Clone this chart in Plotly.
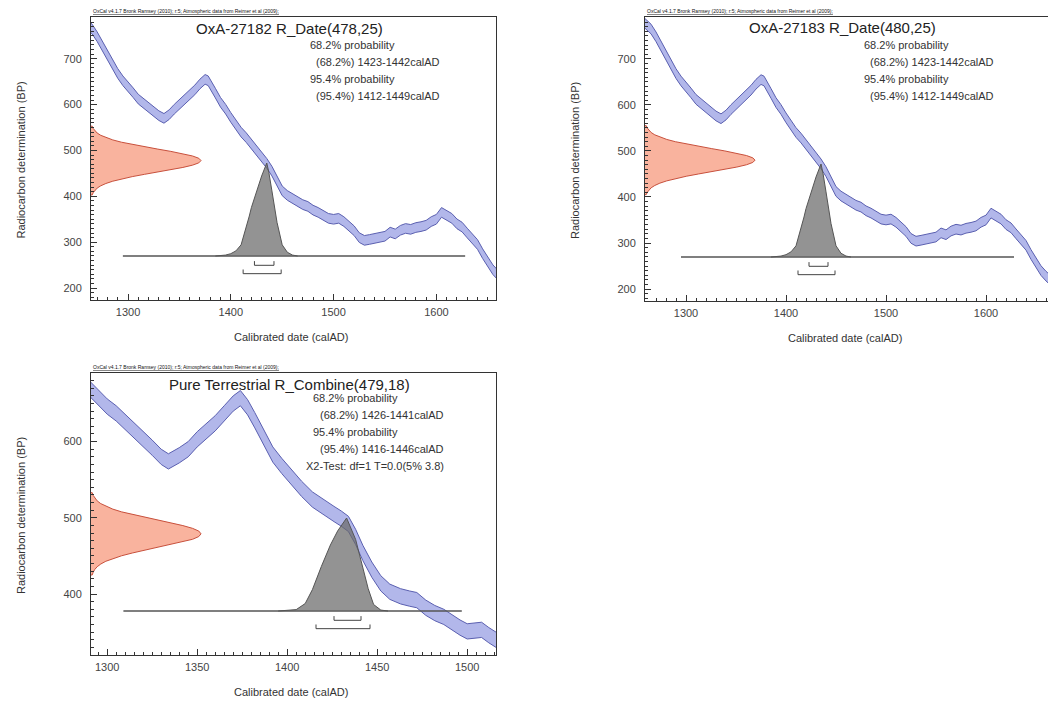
import plotly.graph_objects as go

# ---------------- data ----------------
# IntCal09 calibration curve as drawn in the two upper panels (cal AD -> BP)
cal_years_top = [1255, 1260, 1265, 1270, 1275, 1280, 1285, 1290, 1295, 1300, 1305, 1310, 1315, 1320,
                 1325, 1330, 1335, 1340, 1345, 1350, 1355, 1360, 1365, 1370, 1375, 1378, 1380,
                 1385, 1390, 1395, 1400, 1405, 1410, 1415, 1420, 1425, 1430, 1435, 1440, 1445,
                 1450, 1455, 1460, 1465, 1470, 1475, 1480, 1485, 1490, 1495, 1500, 1505, 1510,
                 1515, 1520, 1525, 1530, 1535, 1540, 1545, 1550, 1555, 1560, 1565, 1570, 1575,
                 1580, 1585, 1590, 1595, 1600, 1605, 1610, 1615, 1620, 1625, 1630, 1635, 1640,
                 1645, 1650, 1655, 1660, 1665]
cal_bp_top = [785, 775, 765, 748, 728, 706, 688, 668, 652, 640, 626, 612, 603, 594,
              585, 576, 570, 578, 590, 600, 610, 620, 632, 645, 655, 652, 645,
              625, 605, 590, 572, 556, 540, 528, 514, 500, 487, 472, 455, 432,
              412, 402, 395, 388, 382, 378, 370, 365, 358, 352, 350, 352, 345,
              335, 325, 310, 304, 306, 308, 310, 313, 322, 318, 326, 330, 328,
              332, 334, 337, 345, 350, 365, 358, 352, 340, 333, 320, 308, 295,
              275, 256, 240, 228, 218]
# calibration curve as drawn in the lower (combined) panel
cal_years_bottom = [1285, 1290, 1295, 1300, 1305, 1310, 1315, 1320, 1325, 1330, 1334, 1340, 1345,
                    1350, 1355, 1360, 1365, 1370, 1374, 1378, 1382, 1387, 1392, 1397, 1402,
                    1408, 1414, 1420, 1426, 1430, 1434, 1438, 1442, 1447, 1452, 1457, 1463,
                    1468, 1472, 1477, 1482, 1487, 1492, 1496, 1500, 1504, 1508, 1512, 1516, 1520]
cal_bp_bottom = [682, 670, 657, 646, 637, 626, 614, 604, 592, 580, 574, 582, 590,
                 603, 614, 624, 637, 650, 657, 645, 628, 606, 583, 568, 554,
                 538, 524, 514, 505, 499, 492, 475, 454, 432, 414, 403, 397,
                 394, 392, 382, 375, 370, 362, 356, 351, 352, 353, 346, 340, 334]
cal_sigma_top = 10.5
cal_sigma_bottom = 10

# radiocarbon measurements (BP) and their relative probability
rdate_density = [0.011, 0.020, 0.034, 0.056, 0.089, 0.135, 0.198, 0.278, 0.375, 0.487, 0.607,
                 0.726, 0.835, 0.923, 0.980, 1.000, 0.980, 0.923, 0.835, 0.726, 0.607, 0.487,
                 0.375, 0.278, 0.198, 0.135, 0.089, 0.056, 0.034, 0.020, 0.011]
bp_oxa27182 = [403, 408, 413, 418, 423, 428, 433, 438, 443, 448, 453, 458, 463, 468, 473, 478,
               483, 488, 493, 498, 503, 508, 513, 518, 523, 528, 533, 538, 543, 548, 553]
bp_oxa27183 = [405, 410, 415, 420, 425, 430, 435, 440, 445, 450, 455, 460, 465, 470, 475, 480,
               485, 490, 495, 500, 505, 510, 515, 520, 525, 530, 535, 540, 545, 550, 555]
bp_combine = [425.0, 428.6, 432.2, 435.8, 439.4, 443.0, 446.6, 450.2, 453.8, 457.4, 461.0,
              464.6, 468.2, 471.8, 475.4, 479.0, 482.6, 486.2, 489.8, 493.4, 497.0, 500.6,
              504.2, 507.8, 511.4, 515.0, 518.6, 522.2, 525.8, 529.4, 533.0]

# calibrated date distributions (cal AD, relative probability)
cal_years_27182 = [1385, 1390, 1395, 1400, 1405, 1410, 1415, 1418, 1420, 1425, 1430, 1435, 1437, 1440, 1443, 1445, 1450, 1455, 1460, 1465]
cal_prob_27182 = [0.0, 0.004, 0.01, 0.025, 0.055, 0.12, 0.30, 0.43, 0.52, 0.70, 0.86, 1.0, 0.90, 0.70, 0.50, 0.36, 0.12, 0.04, 0.01, 0.0]
cal_years_27183 = [1385, 1390, 1395, 1400, 1405, 1410, 1415, 1418, 1420, 1425, 1430, 1435, 1437, 1440, 1443, 1445, 1450, 1455, 1460, 1465]
cal_prob_27183 = [0.0, 0.004, 0.01, 0.025, 0.055, 0.12, 0.30, 0.43, 0.52, 0.70, 0.86, 1.0, 0.90, 0.70, 0.50, 0.36, 0.12, 0.04, 0.01, 0.0]
cal_years_comb = [1395, 1400, 1405, 1410, 1414, 1419, 1424, 1428, 1433, 1438, 1442, 1445, 1448, 1452, 1456]
cal_prob_comb = [0.0, 0.005, 0.015, 0.08, 0.23, 0.48, 0.71, 0.86, 1.0, 0.77, 0.46, 0.24, 0.07, 0.01, 0.0]

# probability ranges (cal AD)
range68_27182, range95_27182 = (1423, 1442), (1412, 1449)
range68_27183, range95_27183 = (1423, 1442), (1412, 1449)
range68_comb, range95_comb = (1426, 1441), (1416, 1446)
# extent of the calibrated-date baseline
base_top = (1295, 1628)
base_bottom = (1309, 1497)

panels = [
    dict(title="OxA-27182 R_Date(478,25)",
         lines=["68.2% probability", "  (68.2%) 1423-1442calAD", "95.4% probability", "  (95.4%) 1412-1449calAD"],
         cy=cal_years_top, cbp=cal_bp_top, cs=cal_sigma_top, bp=bp_oxa27182,
         yrs=cal_years_27182, prob=cal_prob_27182, r68=range68_27182, r95=range95_27182, base=base_top),
    dict(title="OxA-27183 R_Date(480,25)",
         lines=["68.2% probability", "  (68.2%) 1423-1442calAD", "95.4% probability", "  (95.4%) 1412-1449calAD"],
         cy=cal_years_top, cbp=cal_bp_top, cs=cal_sigma_top, bp=bp_oxa27183,
         yrs=cal_years_27183, prob=cal_prob_27183, r68=range68_27183, r95=range95_27183, base=base_top),
    dict(title="Pure Terrestrial R_Combine(479,18)",
         lines=["68.2% probability", "  (68.2%) 1426-1441calAD", "95.4% probability", "  (95.4%) 1416-1446calAD",
                "X2-Test: df=1 T=0.0(5% 3.8)"],
         cy=cal_years_bottom, cbp=cal_bp_bottom, cs=cal_sigma_bottom, bp=bp_combine,
         yrs=cal_years_comb, prob=cal_prob_comb, r68=range68_comb, r95=range95_comb, base=base_bottom),
]

# ---------------- layout geometry ----------------
W, H = 1048, 702
def px_x(p):
    return p / W
def px_y(p):
    return 1 - p / H

boxes = [  # left, right, top, bottom in pixels
    (91, 496, 17, 300),
    (645, 1048, 17, 301),
    (91, 496, 373, 655),
]
xranges = [(1264, 1658), (1259, 1662), (1291, 1516)]
yranges = [(174, 791), (174, 791), (320, 690)]
xdticks = [100, 100, 50]
xminor = [10, 10, 5]

FONT = "Arial, Liberation Sans, sans-serif"
BAND_FILL = "rgba(165,170,230,0.85)"
BAND_LINE = "#5a5fb0"
RED_FILL = "#f9b39e"
RED_LINE = "#c8503c"
GREY_FILL = "rgba(105,105,105,0.72)"
AX = "#333333"

fig = go.Figure()
layout = dict(width=W, height=H, margin=dict(l=0, r=0, t=0, b=0),
              paper_bgcolor="white", plot_bgcolor="white", showlegend=False,
              font=dict(family=FONT, color="#333", size=11))
annotations = []

for i, (p, box) in enumerate(zip(panels, boxes)):
    n = i + 1
    sx = "" if n == 1 else str(n)
    xa, ya = "x" + sx, "y" + sx
    xo, yo = "x" + str(n + 3), "y" + str(n + 3)  # overlay axes for the densities
    l, r, t, b = box
    dom_x = [px_x(l), px_x(r)]
    dom_y = [px_y(b), px_y(t)]
    layout["xaxis" + sx] = dict(domain=dom_x, anchor=ya, range=list(xranges[i]), dtick=xdticks[i],
                                ticks="inside", ticklen=6, tickwidth=1, tickcolor=AX, showgrid=False,
                                zeroline=False, showline=True, linecolor=AX, linewidth=1, mirror=True,
                                tickfont=dict(size=11, color="#444"), ticklabelstandoff=2,
                                minor=dict(dtick=xminor[i], ticks="inside", ticklen=3, tickwidth=1,
                                           tickcolor=AX))
    layout["yaxis" + sx] = dict(domain=dom_y, anchor=xa, range=list(yranges[i]), dtick=100,
                                ticks="inside", ticklen=6, tickwidth=1, tickcolor=AX, showgrid=False,
                                zeroline=False, showline=True, linecolor=AX, linewidth=1, mirror=True,
                                tickfont=dict(size=11, color="#444"), ticklabelstandoff=6,
                                minor=dict(dtick=10, ticks="inside", ticklen=3, tickwidth=1,
                                           tickcolor=AX))
    # overlay x axis for the BP measurement density (peak reaches ~110 px)
    pw = r - l
    layout["xaxis" + str(n + 3)] = dict(domain=dom_x, anchor=ya, overlaying=xa, range=[0, pw / 110.0],
                                        visible=False, fixedrange=True)
    # overlay y axis for the calibrated-date density (baseline at 0)
    ph = b - t
    base_frac = 44.0 / ph
    peak_frac = base_frac + 93.0 / ph
    span = 1.0 / (peak_frac - base_frac)
    lo = -base_frac * span
    layout["yaxis" + str(n + 3)] = dict(domain=dom_y, anchor=xa, overlaying=ya, range=[lo, lo + span],
                                        visible=False, fixedrange=True)

    # calibration band
    up = [v + p["cs"] for v in p["cbp"]]
    dn = [v - p["cs"] for v in p["cbp"]]
    fig.add_trace(go.Scatter(x=p["cy"], y=dn, mode="lines", line=dict(color=BAND_LINE, width=1),
                             xaxis=xa, yaxis=ya, hoverinfo="skip"))
    fig.add_trace(go.Scatter(x=p["cy"], y=up, mode="lines", line=dict(color=BAND_LINE, width=1),
                             fill="tonexty", fillcolor=BAND_FILL, xaxis=xa, yaxis=ya, hoverinfo="skip"))

    # radiocarbon measurement density on the y axis
    fig.add_trace(go.Scatter(x=[0] + rdate_density + [0], y=[p["bp"][0]] + p["bp"] + [p["bp"][-1]],
                             mode="lines", fill="toself", fillcolor=RED_FILL,
                             line=dict(color=RED_LINE, width=1), xaxis=xo, yaxis=ya, hoverinfo="skip"))

    # baseline of calibrated distribution
    fig.add_trace(go.Scatter(x=list(p["base"]), y=[0, 0], mode="lines",
                             line=dict(color="#555555", width=1.5), xaxis=xa, yaxis=yo, hoverinfo="skip"))
    # calibrated date density
    fig.add_trace(go.Scatter(x=p["yrs"], y=p["prob"], mode="lines", fill="tozeroy", fillcolor=GREY_FILL,
                             line=dict(color="#555555", width=1), xaxis=xa, yaxis=yo, hoverinfo="skip"))
    # range brackets
    for rng, lev in ((p["r68"], -0.10), (p["r95"], -0.19)):
        fig.add_trace(go.Scatter(x=[rng[0], rng[0], rng[1], rng[1]], y=[lev + 0.045, lev, lev, lev + 0.045],
                                 mode="lines", line=dict(color="#444444", width=1),
                                 xaxis=xa, yaxis=yo, hoverinfo="skip"))

    # header text
    annotations.append(dict(text="<u>OxCal v4.1.7 Bronk Ramsey (2010); r:5; Atmospheric data from Reimer et al (2009);</u>",
                            xref="paper", yref="paper", x=px_x(l), y=px_y(t - 1), xanchor="left", yanchor="bottom",
                            showarrow=False, font=dict(size=5, color="#111")))
    # title
    annotations.append(dict(text=p["title"], xref=xa + " domain", yref=ya + " domain",
                            x=0.49, y=1 - 11.0 / ph, xanchor="center", yanchor="middle",
                            showarrow=False, font=dict(size=15, color="#222")))
    # result lines
    for k, line in enumerate(p["lines"]):
        indent = line.startswith("  ")
        txt = line.strip()
        if i < 2:
            xpix = (l + 217 + (6 if indent else 0))
            ypix = t + 28 + k * 17
        else:
            xpix = (l + 220 + (7 if indent else 0)) if not txt.startswith("X2") else l + 213
            ypix = t + 25 + k * 17
        annotations.append(dict(text=txt, xref="paper", yref="paper", x=px_x(xpix), y=px_y(ypix),
                                xanchor="left", yanchor="middle", showarrow=False,
                                font=dict(size=11, color="#333")))
    # axis titles
    annotations.append(dict(text="Calibrated date (calAD)", xref="paper", yref="paper",
                            x=px_x(l + 200), y=px_y(b + 37),
                            xanchor="center", yanchor="middle", showarrow=False,
                            font=dict(size=11, color="#333")))
    annotations.append(dict(text="Radiocarbon determination (BP)", xref="paper", yref="paper",
                            x=px_x(l - 70), y=px_y((t + b) / 2 + 2), textangle=-90,
                            xanchor="center", yanchor="middle", showarrow=False,
                            font=dict(size=11, color="#333")))

layout["annotations"] = annotations
fig.update_layout(**layout)
fig.write_html("out.html")
